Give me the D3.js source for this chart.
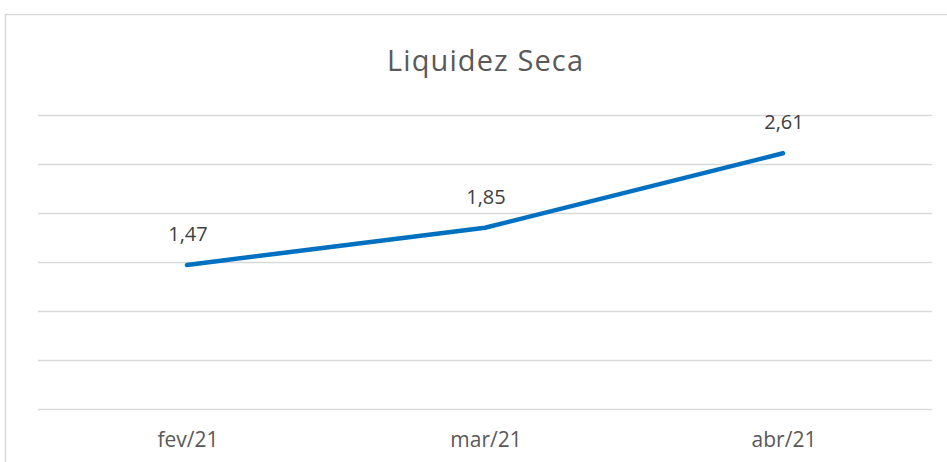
<!DOCTYPE html>
<html><head><meta charset="utf-8">
<script src="https://cdn.jsdelivr.net/npm/d3@7"></script>
<style>body{margin:0;background:#fff;}svg{display:block;font-family:"Open Sans","Segoe UI",sans-serif;}</style>
</head><body>
<svg id="c" width="947" height="462"></svg>
<script>
const categories = ["fev/21", "mar/21", "abr/21"];
const values = [1.47, 1.85, 2.61];
const labels = ["1,47", "1,85", "2,61"];
const yTicks = [0, 0.5, 1, 1.5, 2, 2.5, 3];
const title = "Liquidez Seca";

const svg = d3.select("#c");
svg.append("rect").attr("x",5.5).attr("y",14.5).attr("width",960).attr("height",470)
  .attr("fill","#fff").attr("stroke","#d9d9d9").attr("stroke-width",1.5);

const x = d3.scaleBand().domain(categories).range([38, 932]);
const y = d3.scaleLinear().domain([0, 3]).range([409, 115]);

svg.append("g").selectAll("line").data(yTicks).join("line")
  .attr("x1",38).attr("x2",932)
  .attr("y1",d=>Math.round(y(d))+0.5).attr("y2",d=>Math.round(y(d))+0.5)
  .attr("stroke","#d9d9d9").attr("stroke-width",1.5);

svg.append("text").attr("x",485).attr("y",71).attr("text-anchor","middle")
  .attr("font-size",29).attr("fill","#595959").attr("font-weight",400).attr("textLength",196).text(title);

svg.append("g").selectAll("text").data(categories).join("text")
  .attr("x",d=>x(d)+x.bandwidth()/2+1).attr("y",447).attr("text-anchor","middle")
  .attr("font-size",21).attr("fill","#595959").text(d=>d);

const line = d3.line().x((d,i)=>x(categories[i])+x.bandwidth()/2).y(d=>y(d));
svg.append("path").datum(values).attr("d",line).attr("fill","none")
  .attr("stroke","#0070C0").attr("stroke-width",4.5).attr("stroke-linecap","round").attr("stroke-linejoin","round");

svg.append("g").selectAll("text").data(values).join("text")
  .attr("x",(d,i)=>x(categories[i])+x.bandwidth()/2+1).attr("y",d=>y(d)-24)
  .attr("text-anchor","middle").attr("font-size",20).attr("fill","#404040").text((d,i)=>labels[i]);
</script>
</body></html>
